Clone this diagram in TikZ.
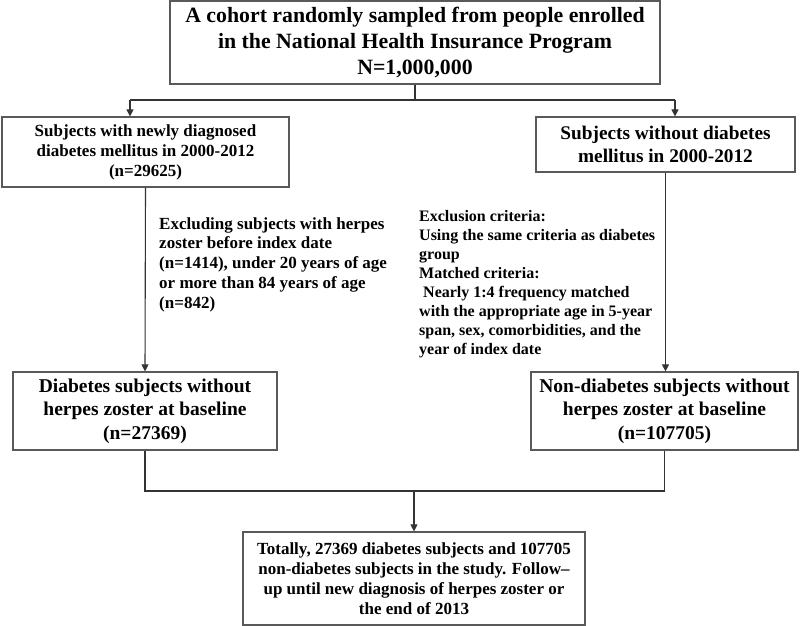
\documentclass[tikz,border=0pt]{standalone}
\usepackage{fontspec}
\setmainfont{Liberation Serif}
\usetikzlibrary{arrows.meta,positioning,calc}
\tikzset{
  box/.style={draw=black!65, line width=1.2pt, rectangle, inner sep=0pt, align=center, font=\bfseries},
  conn/.style={draw=black!80, line width=1.1pt},
  arr/.style={conn, -{Triangle[length=7pt,width=7pt]}},
  note/.style={inner sep=0pt, align=left, anchor=west, font=\bfseries}
}
\begin{document}
\begin{tikzpicture}[x=1pt,y=-1pt]
\useasboundingbox[fill=white] (0,0) rectangle (800,626);
% boxes
\node[box, minimum width=490pt, minimum height=83pt, font=\bfseries\fontsize{21.8}{26}\selectfont] (top) at (415,42.5)
  {A cohort randomly sampled from people enrolled\\ in the National Health Insurance Program\\ N=1,000,000};
\node[box, minimum width=287pt, minimum height=70pt, font=\bfseries\fontsize{17}{20}\selectfont] (L1) at (145.5,152)
  {Subjects with newly diagnosed\\ diabetes mellitus in 2000-2012\\ (n=29625)};
\node[box, minimum width=259pt, minimum height=55pt, font=\bfseries\fontsize{19.3}{23}\selectfont] (R1) at (665.5,144.5)
  {Subjects without diabetes\\ mellitus in 2000-2012};
\node[box, minimum width=264pt, minimum height=78pt, font=\bfseries\fontsize{19.5}{23.5}\selectfont] (L2) at (145,411)
  {Diabetes subjects without\\ herpes zoster at baseline\\ (n=27369)};
\node[box, minimum width=267pt, minimum height=78pt, font=\bfseries\fontsize{19.5}{23.5}\selectfont] (R2) at (664.5,411)
  {Non-diabetes subjects without\\ herpes zoster at baseline\\ (n=107705)};
\node[box, minimum width=342pt, minimum height=93pt, font=\bfseries\fontsize{17}{20}\selectfont] (B) at (414,578.5)
  {Totally, 27369 diabetes subjects and 107705\\ non-diabetes subjects in the study. Follow--\\ up until new diagnosis of herpes zoster or\\ the end of 2013};
% side notes
\node[note, font=\bfseries\fontsize{17}{19.75}\selectfont] (nL) at (159,264.5)
  {Excluding subjects with herpes\\ zoster before index date\\ (n=1414), under 20 years of age\\ or more than 84 years of age\\ (n=842)};
\node[note, font=\bfseries\fontsize{16}{19}\selectfont] (nR) at (419,284)
  {Exclusion criteria:\\ Using the same criteria as diabetes\\ group\\ Matched criteria:\\ \hspace*{4pt}Nearly 1:4 frequency matched\\ with the appropriate age in 5-year\\ span, sex, comorbidities, and the\\ year of index date};
% connectors
\coordinate (jt) at (415,100);
\coordinate (hL) at (130,100);
\coordinate (hR) at (675,100);
\draw[conn] (top.south) -- (jt);
\draw[conn] (hL) -- (hR);
\draw[arr] (hL) -- (hL |- L1.north);
\draw[arr] (hR) -- (hR |- R1.north);
\draw[arr] (L1.south) -- (L2.north);
\draw[arr] (R1.south) -- (R2.north -| R1.south);
\coordinate (jb) at (414,491);
\draw[conn] (L2.south) -- (L2.south |- jb) -- (R2.south |- jb) -- (R2.south);
\draw[arr] (jb) -- (B.north);
\end{tikzpicture}
\end{document}
